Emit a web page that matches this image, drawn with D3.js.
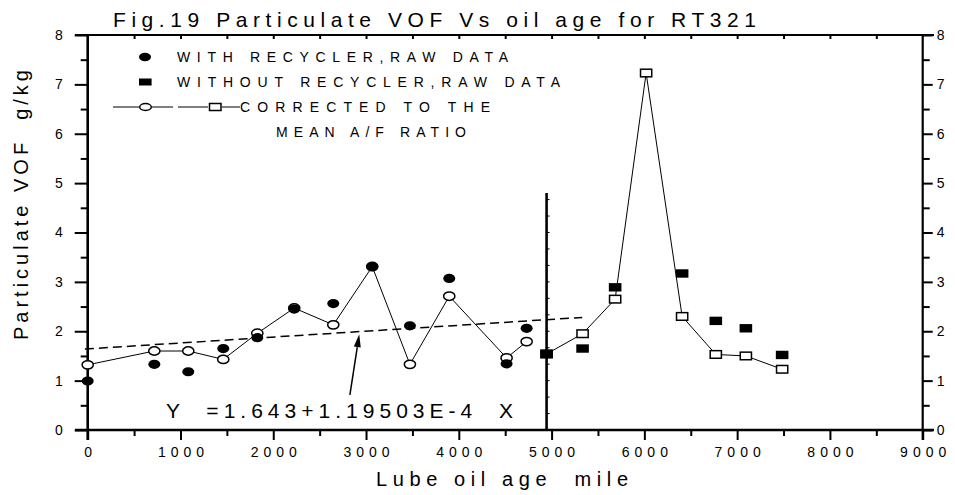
<!DOCTYPE html>
<html><head><meta charset="utf-8">
<script src="https://cdn.jsdelivr.net/npm/d3@7"></script>
<style>
body{margin:0;background:#fff;}
svg text{font-family:"Liberation Sans",Arial,Helvetica,sans-serif;fill:#000;}
</style></head>
<body><svg id="c" width="955" height="495"></svg>
<script>
// ---- data ----
const circleX    = [0, 718, 1084, 1461, 1828, 2226, 2647, 3067, 3473, 3897, 4515, 4731];
const circleRaw  = [0.99, 1.33, 1.18, 1.65, 1.87, 2.45, 2.56, 3.31, 2.11, 3.07, 1.34, 2.06];
const circleCorr = [1.32, 1.60, 1.60, 1.43, 1.96, 2.47, 2.13, 3.31, 1.33, 2.71, 1.46, 1.79];
const squareRawX = [4946, 5334, 5685, 6407, 6770, 7094, 7485];
const squareRaw  = [1.54, 1.65, 2.89, 3.17, 2.21, 2.06, 1.52];
const squareCorrX= [4946, 5334, 5685, 6019, 6407, 6770, 7094, 7485];
const squareCorr = [1.54, 1.95, 2.65, 7.23, 2.30, 1.53, 1.50, 1.23];
const fitIntercept = 1.643, fitSlope = 1.19503e-4;
const fitRange = [-30, 5330];
const separatorX = 4946, separatorTop = 4.8;
const arrowFrom = [2826, 0.71], arrowTo = [2927, 1.94];
const xTicks = [0,1000,2000,3000,4000,5000,6000,7000,8000,9000];
const xMinor = [500,1500,2500,3500,4500,5500,6500,7500,8500];
const yTicks = [0,1,2,3,4,5,6,7,8];
const yMinor = [0.5,1.5,2.5,3.5,4.5,5.5,6.5,7.5];
const titleText = "Fig.19 Particulate VOF Vs oil age for RT321";
const xLabel = "Lube oil age  mile";
const yLabel = "Particulate VOF  g/kg";
const eqText = "Y  =1.643+1.19503E-4  X";
const legendRows = ["WITH RECYCLER,RAW DATA","WITHOUT RECYCLER,RAW DATA","CORRECTED TO THE","MEAN A/F RATIO"];

// ---- layout ----
const svg = d3.select("#c");
const x = d3.scaleLinear().domain([0,9000]).range([87.7,922.7]);
const y = d3.scaleLinear().domain([0,8]).range([430,35]);

// axes
const gB = svg.append("g").attr("transform","translate(0,430)");
gB.call(d3.axisBottom(x).tickValues(xTicks).tickSize(10).tickPadding(7).tickFormat(d3.format("d")));
gB.append("g").call(d3.axisBottom(x).tickValues(xMinor).tickSize(6).tickFormat(""));
gB.selectAll("text").attr("font-size",14).style("letter-spacing","5px").attr("dx","2.5");
const gT = svg.append("g").attr("transform","translate(0,35)");
gT.call(d3.axisBottom(x).tickValues(xMinor.concat(xTicks.slice(1,-1))).tickSize(4).tickFormat(""));
const gL = svg.append("g").attr("transform","translate(87.7,0)");
gL.call(d3.axisLeft(y).tickValues(yTicks).tickSize(13).tickPadding(12));
gL.append("g").call(d3.axisLeft(y).tickValues(yMinor).tickSize(7).tickFormat(""));
gL.selectAll("text").attr("font-size",14);
const gR = svg.append("g").attr("transform","translate(922.7,0)");
gR.call(d3.axisRight(y).tickValues(yTicks).tickSize(10).tickPadding(4));
gR.append("g").call(d3.axisRight(y).tickValues(yMinor).tickSize(7).tickFormat(""));
gR.selectAll("text").attr("font-size",14);
svg.selectAll(".domain").remove();
svg.selectAll(".tick line").attr("stroke","#000").attr("stroke-width",2);
svg.selectAll(".tick text").attr("fill","#000");

// frame lines
svg.append("line").attr("x1",75).attr("x2",934).attr("y1",y(0)).attr("y2",y(0)).attr("stroke","#000").attr("stroke-width",2.6);
svg.append("line").attr("x1",75).attr("x2",934).attr("y1",y(8)).attr("y2",y(8)).attr("stroke","#000").attr("stroke-width",2);
svg.append("line").attr("x1",x(0)).attr("x2",x(0)).attr("y1",y(8)).attr("y2",y(0)+10).attr("stroke","#000").attr("stroke-width",2.6);
svg.append("line").attr("x1",x(9000)).attr("x2",x(9000)).attr("y1",y(8)).attr("y2",y(0)+10).attr("stroke","#000").attr("stroke-width",2.2);

// separator line with small ticks
svg.append("line").attr("x1",x(separatorX)).attr("x2",x(separatorX)).attr("y1",y(0)).attr("y2",y(separatorTop)).attr("stroke","#000").attr("stroke-width",2.6);
const sepTicks = d3.range(0, separatorTop, 1/3);
svg.append("g").selectAll("line").data(sepTicks).join("line")
  .attr("x1",x(separatorX)).attr("x2",x(separatorX)+3).attr("y1",d=>y(d)).attr("y2",d=>y(d))
  .attr("stroke","#000").attr("stroke-width",1);

// regression dashed line
svg.append("line").attr("x1",x(fitRange[0])).attr("x2",x(fitRange[1]))
  .attr("y1",y(fitIntercept+fitSlope*fitRange[0])).attr("y2",y(fitIntercept+fitSlope*fitRange[1]))
  .attr("stroke","#000").attr("stroke-width",1.5).attr("stroke-dasharray","9,5");

// connecting lines
const line = d3.line().x(d=>x(d[0])).y(d=>y(d[1]));
svg.append("path").attr("d",line(d3.zip(circleX,circleCorr))).attr("fill","none").attr("stroke","#000").attr("stroke-width",1);
svg.append("path").attr("d",line(d3.zip(squareCorrX,squareCorr))).attr("fill","none").attr("stroke","#000").attr("stroke-width",1);

// open markers
svg.append("g").selectAll("ellipse").data(d3.zip(circleX,circleCorr)).join("ellipse")
  .attr("cx",d=>x(d[0])).attr("cy",d=>y(d[1])).attr("rx",5.6).attr("ry",4.2)
  .attr("fill","#fff").attr("stroke","#000").attr("stroke-width",1.5);
svg.append("g").selectAll("rect").data(d3.zip(squareCorrX,squareCorr)).join("rect")
  .attr("x",d=>x(d[0])-5.6).attr("y",d=>y(d[1])-3.8).attr("width",11.2).attr("height",7.6)
  .attr("fill","#fff").attr("stroke","#000").attr("stroke-width",1.5);
// filled markers
svg.append("g").selectAll("ellipse").data(d3.zip(circleX,circleRaw)).join("ellipse")
  .attr("cx",d=>x(d[0])).attr("cy",d=>y(d[1])).attr("rx",6).attr("ry",4.6).attr("fill","#000");
svg.append("g").selectAll("rect").data(d3.zip(squareRawX,squareRaw)).join("rect")
  .attr("x",d=>x(d[0])-6.3).attr("y",d=>y(d[1])-4.2).attr("width",12.6).attr("height",8.4).attr("fill","#000");

// arrow
const ax1=x(arrowFrom[0]), ay1=y(arrowFrom[1]), ax2=x(arrowTo[0]), ay2=y(arrowTo[1]);
const ang=Math.atan2(ay2-ay1,ax2-ax1), hl=13, hw=3.5;
const bx=ax2-hl*Math.cos(ang), by=ay2-hl*Math.sin(ang);
svg.append("line").attr("x1",ax1).attr("y1",ay1).attr("x2",bx).attr("y2",by).attr("stroke","#000").attr("stroke-width",1.5);
svg.append("path").attr("d",`M${ax2},${ay2}L${bx+hw*Math.sin(ang)},${by-hw*Math.cos(ang)}L${bx-hw*Math.sin(ang)},${by+hw*Math.cos(ang)}Z`).attr("fill","#000");

// texts
function txt(s,xx,yy,size,len){
  return svg.append("text").attr("x",xx).attr("y",yy).attr("font-size",size)
   .attr("textLength",len).attr("lengthAdjust","spacing").style("white-space","pre").text(s);
}
txt(titleText,113,27,21,643);
txt(xLabel,376,486,20,252);
txt(eqText,166,418,21,347);
svg.append("text").attr("transform","translate(28,340) rotate(-90)").attr("font-size",20)
  .attr("textLength",270).attr("lengthAdjust","spacing").style("white-space","pre").text(yLabel);

// legend
txt(legendRows[0],177,62,14,331);
txt(legendRows[1],177,87,14,383);
txt(legendRows[2],240,112,14,250);
txt(legendRows[3],276,137,14,190);
svg.append("ellipse").attr("cx",145).attr("cy",57).attr("rx",6).attr("ry",4.2).attr("fill","#000");
svg.append("rect").attr("x",139).attr("y",78.5).attr("width",12.6).attr("height",7).attr("fill","#000");
const ly=107;
[[113,139],[152,173],[178,208],[222,240]].forEach(s=>svg.append("line").attr("x1",s[0]).attr("x2",s[1]).attr("y1",ly).attr("y2",ly).attr("stroke","#000").attr("stroke-width",1));
svg.append("ellipse").attr("cx",145.5).attr("cy",ly).attr("rx",5.8).attr("ry",3.5).attr("fill","#fff").attr("stroke","#000").attr("stroke-width",1.5);
svg.append("rect").attr("x",209.5).attr("y",ly-3.5).attr("width",11.5).attr("height",7).attr("fill","#fff").attr("stroke","#000").attr("stroke-width",1.5);
</script></body></html>
